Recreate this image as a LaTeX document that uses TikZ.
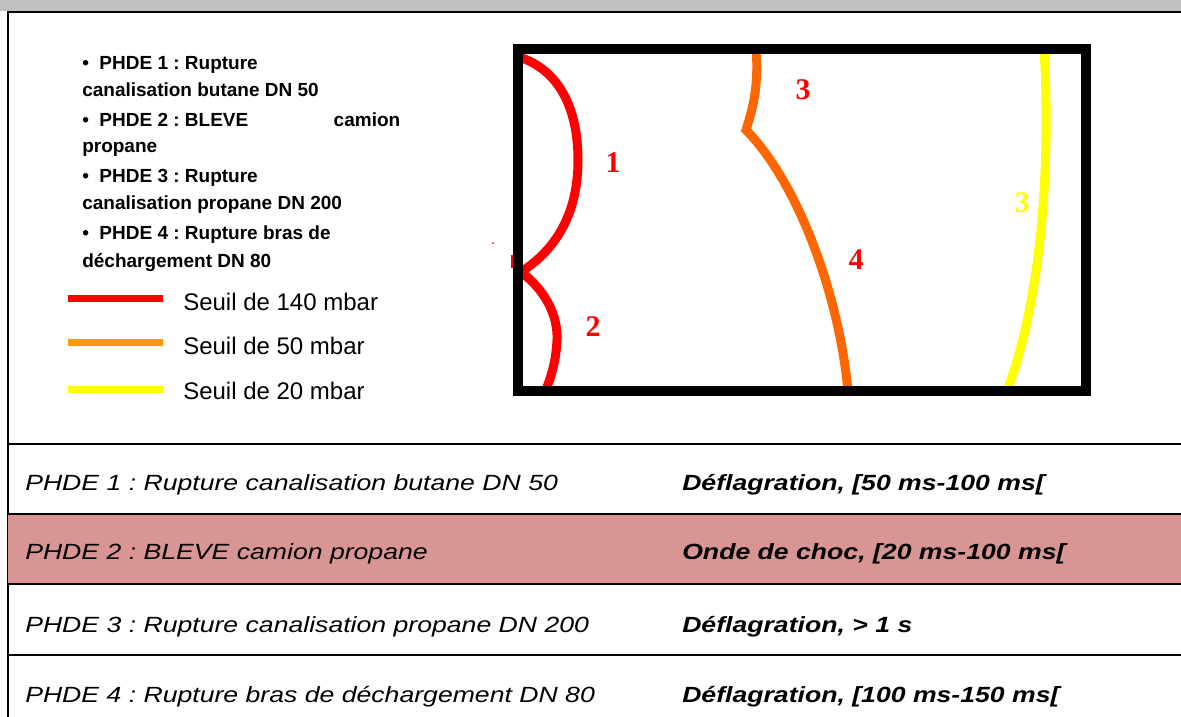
\documentclass[tikz,border=0pt]{standalone}
\usepackage{fontspec}
\setmainfont{Liberation Sans}
\newfontfamily\tablefont[FakeStretch=1.21]{Liberation Sans}
\newfontfamily\digitfont{Liberation Serif}
\definecolor{headgray}{HTML}{C0C0C0}
\definecolor{pinkrow}{HTML}{D99594}
\definecolor{zred}{HTML}{FF0000}
\definecolor{zorange}{HTML}{FF6600}
\definecolor{legorange}{HTML}{FF9900}
\definecolor{zyellow}{HTML}{FFFF00}
\frenchspacing
\tikzset{
  bul/.style={font=\fontsize{14.25}{17}\selectfont\bfseries, inner sep=0pt, anchor=base west},
  legtext/.style={font=\fontsize{18}{21}\selectfont, inner sep=0pt, anchor=base west},
  tleft/.style={font=\tablefont\fontsize{16.5}{19}\selectfont\itshape, inner sep=0pt, anchor=base west},
  tright/.style={font=\tablefont\fontsize{16.5}{19}\selectfont\bfseries\itshape, inner sep=0pt, anchor=base west},
  zone/.style={line width=6.75pt},
  legline/.style={line width=5.25pt},
  digit/.style={font=\fontsize{22.5}{25}\digitfont\bfseries, inner sep=0pt},
  rule/.style={line width=1.5pt, black}
}
\begin{document}
\begin{tikzpicture}[x=0.75pt,y=-0.75pt]
\useasboundingbox (0,0) rectangle (1181,717);
% header bar
\fill[headgray] (0,0) rectangle (1181,11);
\draw[rule] (8,11.7) -- (1181,11.7);
\draw[line width=1.3pt] (8.3,11) -- (8.3,717);
% table
\fill[pinkrow] (8.3,514.3) rectangle (1181,584.3);
\draw[rule] (8.3,444.3) -- (1181,444.3);
\draw[rule] (8.3,514.3) -- (1181,514.3);
\draw[rule] (8.3,584.3) -- (1181,584.3);
\draw[rule] (8.3,655) -- (1181,655);
\node[tleft] (t1a) at (25,490.5) {PHDE 1 : Rupture canalisation butane DN 50};
\node[tleft] (t2a) at (25,559.6) {PHDE 2 : BLEVE camion propane};
\node[tleft] (t3a) at (25,632) {PHDE 3 : Rupture canalisation propane DN 200};
\node[tleft] (t4a) at (25,702) {PHDE 4 : Rupture bras de déchargement DN 80};
\node[tright] (t1b) at (682,490.5) {Déflagration, [50 ms-100 ms[};
\node[tright] (t2b) at (682,559.6) {Onde de choc, [20 ms-100 ms[};
\node[tright] (t3b) at (682,632) {Déflagration, > 1 s};
\node[tright] (t4b) at (682,702) {Déflagration, [100 ms-150 ms[};
% bullet list
\node[bul] (b1) at (82,69.5) {• \ PHDE 1 : Rupture};
\node[bul] (b2) at (82,96) {canalisation butane DN 50};
\node[bul] (b3) at (82,126) {\hbox to 238.5pt{• \ PHDE 2 : BLEVE\hfill camion}};
\node[bul] (b4) at (82,152.5) {propane};
\node[bul] (b5) at (82,182.5) {• \ PHDE 3 : Rupture};
\node[bul] (b6) at (82,209) {canalisation propane DN 200};
\node[bul] (b7) at (82,239) {• \ PHDE 4 : Rupture bras de};
\node[bul] (b8) at (82,267) {déchargement DN 80};
% legend
\draw[legline, zred] (68,298) -- (163,298);
\draw[legline, legorange] (68,342) -- (163,342);
\draw[legline, zyellow] (68,389) -- (163,389);
\node[legtext] (l1) at (183,310.5) {Seuil de 140 mbar};
\node[legtext] (l2) at (183,354) {Seuil de 50 mbar};
\node[legtext] (l3) at (183,399) {Seuil de 20 mbar};
% zones
\draw[zone, zred] (519,57) .. controls (560,70) and (578,110) .. (578,160)
      .. controls (578,215) and (555,250) .. (521,272);
\draw[zone, zred] (521,272) .. controls (545,290) and (558,315) .. (557,340)
      .. controls (556,360) and (552,375) .. (545,392);
\draw[zone, zorange, line join=miter, miter limit=10] (756,48) .. controls (759,85) and (753,108) .. (746,130)
      .. controls (800,185) and (840,300) .. (848,392);
\draw[zone, zyellow] (1044,48) .. controls (1050,150) and (1045,290) .. (1006,394);
\fill[zred] (511,255) rectangle (513,268);
\fill[zred!60] (492,242) rectangle (494,243.5);
% map frame
\draw[line width=7.5pt] (517.5,49.5) rectangle (1086,390.5);
\node[digit, zred] (d1) at (613,163) {1};
\node[digit, zred] (d2) at (593,327) {2};
\node[digit, zred] (d3) at (803,90) {3};
\node[digit, zred] (d4) at (856,260) {4};
\node[digit, zyellow] (d5) at (1022,203) {3};
\end{tikzpicture}
\end{document}
